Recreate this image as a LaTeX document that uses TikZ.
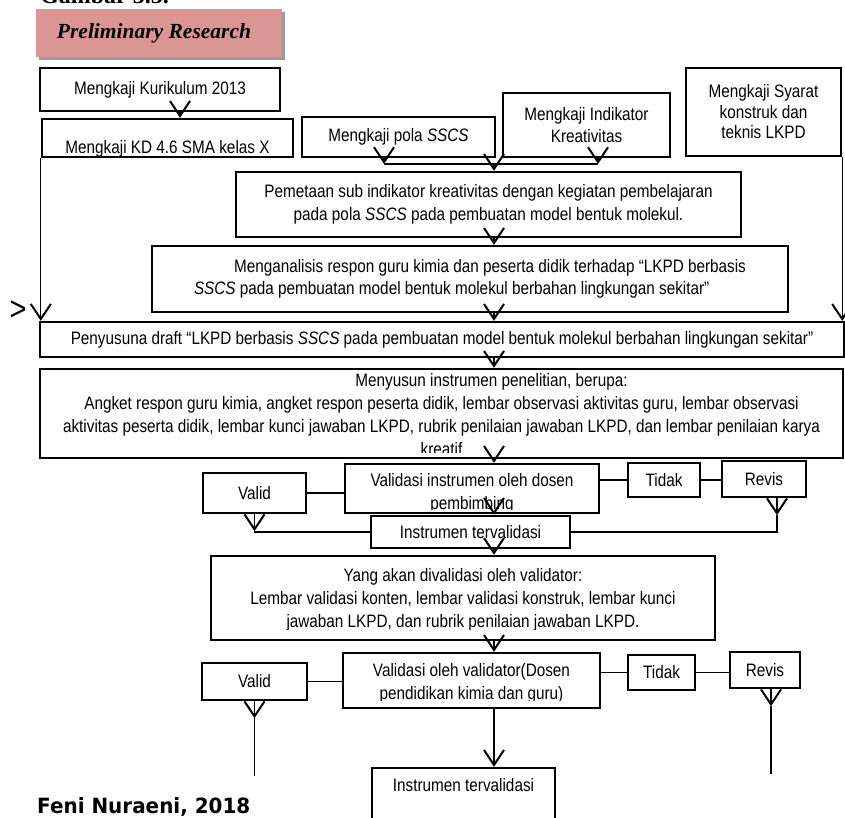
\documentclass[tikz,border=0pt]{standalone}
\usepackage{fontspec}
\setmainfont{Liberation Sans}[FakeStretch=0.85]
\newfontfamily\prelimfont{Liberation Serif}
\newfontfamily\fenifont{DejaVu Sans}[FakeStretch=0.95]
\usetikzlibrary{arrows.meta,calc,shadows}
\definecolor{prelimpink}{HTML}{D99694}
\definecolor{prelimshadow}{HTML}{9A9A9A}

\begin{document}
\begin{tikzpicture}[x=1pt, y=-1pt,
    box/.style={draw, line width=2.4pt, inner sep=2pt, align=center, font=\fontsize{18}{22.5}\selectfont},
    txt/.style={inner sep=0pt, align=center, font=\fontsize{18}{23}\selectfont},
    conn/.style={line width=1.2pt},
    vee/.style={line width=1.2pt, -{Straight Barb[length=15pt, width=20pt, line width=2pt]}}]
    \useasboundingbox (0,0) rectangle (845,817);

    % heading
    \node[anchor=base west, inner sep=0pt, font=\prelimfont\bfseries\fontsize{24}{28}\selectfont] (gambar) at (40,3.5) {Gambar 3.3.};
    \node[fill=prelimpink, minimum width=246pt, minimum height=48pt, drop shadow={shadow xshift=3pt, shadow yshift=-3pt, fill=prelimshadow, opacity=1}, font=\prelimfont\bfseries\itshape\fontsize{21.5}{25}\selectfont] (prelim) at (159,33) {\hspace*{-10pt}Preliminary Research};

    % kajian awal
    \node[box, minimum width=240pt, minimum height=43pt] (kurikulum) at (160,89.5) {Mengkaji Kurikulum 2013};
    \node[box, minimum width=251pt, minimum height=38pt, text height=30pt, text depth=0pt] (kd) at (167.5,138) {Mengkaji KD 4.6 SMA kelas X};
    \node[box, minimum width=193pt, minimum height=40pt] (pola) at (398.5,137) {Mengkaji pola \textit{SSCS}};
    \node[box, minimum width=167pt, minimum height=64pt] (indikator) at (586.5,125) {Mengkaji Indikator\\Kreativitas};
    \node[box, minimum width=155pt, minimum height=88pt, font=\fontsize{18}{20.5}\selectfont] (syarat) at (763.5,112) {Mengkaji Syarat\\konstruk dan\\teknis LKPD};

    \node[box, minimum width=505pt, minimum height=65pt] (pemetaan) at (488.5,204.5) {Pemetaan sub indikator kreativitas dengan kegiatan pembelajaran\\pada pola \textit{SSCS} pada pembuatan model bentuk molekul.};
    \node[box, minimum width=636pt, minimum height=66pt, align=left] (menganalisis) at (470,279) {\hspace*{40pt}Menganalisis respon guru kimia dan peserta didik terhadap “LKPD berbasis\\\textit{SSCS} pada pembuatan model bentuk molekul berbahan lingkungan sekitar”};
    \node[inner sep=0pt, font=\fontsize{34}{38}\selectfont] (stray) at (18,311) {>};
    \node[box, minimum width=804pt, minimum height=35pt] (penyusuna) at (442,339.5) {Penyusuna draft “LKPD berbasis \textit{SSCS} pada pembuatan model bentuk molekul berbahan lingkungan sekitar”};

    \begin{scope}
      \clip (40,369) rectangle (843,452);
      \node[txt] (menyusun-text) at (441.5,414.5) {\hspace*{100pt}Menyusun instrumen penelitian, berupa:\\Angket respon guru kimia, angket respon peserta didik, lembar observasi aktivitas guru, lembar observasi\\aktivitas peserta didik, lembar kunci jawaban LKPD, rubrik penilaian jawaban LKPD, dan lembar penilaian karya\\kreatif};
    \end{scope}
    \node[box, minimum width=803pt, minimum height=89pt] (menyusun) at (441.5,413.5) {};

    % validasi dosen pembimbing
    \begin{scope}
      \clip (345,464) rectangle (599,509);
      \node[txt] (validasi1-text) at (472,493) {Validasi instrumen oleh dosen\\pembimbing};
    \end{scope}
    \node[box, minimum width=254pt, minimum height=49pt] (validasi1) at (472,488.5) {};
    \node[box, minimum width=103pt, minimum height=40pt] (valid1) at (254.5,493) {Valid};
    \node[box, minimum width=72pt, minimum height=34pt] (tidak1) at (664,480) {Tidak};
    \node[box, minimum width=84pt, minimum height=36pt] (revis1) at (764,479) {Revis};
    \node[box, minimum width=199pt, minimum height=32pt] (instrumen1) at (470.5,532) {Instrumen tervalidasi};

    \begin{scope}
      \clip (211,556) rectangle (715,629);
      \node[txt] (yang-text) at (463,600) {Yang akan divalidasi oleh validator:\\Lembar validasi konten, lembar validasi konstruk, lembar kunci\\jawaban LKPD, dan rubrik penilaian jawaban LKPD.};
    \end{scope}
    \node[box, minimum width=504pt, minimum height=84pt] (yang) at (463,598) {};

    % validasi validator
    \begin{scope}
      \clip (343,653) rectangle (600,700);
      \node[txt] (validasi2-text) at (471.5,683) {Validasi oleh validator(Dosen\\pendidikan kimia dan guru)};
    \end{scope}
    \node[box, minimum width=257pt, minimum height=55pt] (validasi2) at (471.5,680.5) {};
    \node[box, minimum width=105pt, minimum height=37pt] (valid2) at (254.5,681.5) {Valid};
    \node[box, minimum width=67pt, minimum height=35pt] (tidak2) at (661.5,672.5) {Tidak};
    \node[box, minimum width=70pt, minimum height=36pt] (revis2) at (765,670) {Revis};
    \node[box, minimum width=183pt, minimum height=72pt, text height=0pt, text depth=26pt] (instrumen2) at (463.5,804) {Instrumen tervalidasi};

    \node[anchor=base west, inner sep=0pt, font=\fenifont\bfseries\fontsize{21}{25}\selectfont] (feni) at (37,813) {Feni Nuraeni, 2018};

    % panah
    \coordinate (jl) at (384,164);
    \coordinate (jr) at (598,164);
    \coordinate (jm) at (494,164);
    \draw[vee] ([xshift=20pt]kurikulum.south) -- ([xshift=12.5pt]kd.north);
    \draw[vee] (pola.south -| jl) -- (jl);
    \draw[vee] (indikator.south -| jr) -- (jr);
    \draw[conn] (jl) -- (jr);
    \draw[vee] (jm) -- (jm |- pemetaan.north);
    \draw[vee] (jm |- pemetaan.south) -- (jm |- menganalisis.north);
    \draw[vee] (jm |- menganalisis.south) -- (jm |- penyusuna.north);
    \draw[vee] (kd.south west) -- (kd.south west |- penyusuna.north);
    \draw[vee] (syarat.south east) -- (syarat.south east |- penyusuna.north);
    \draw[vee] (jm |- penyusuna.south) -- (jm |- menyusun.north);
    \draw[vee] (jm |- menyusun.south) -- (jm |- validasi1.north);

    \draw[conn] (valid1.east) -- (valid1.east -| validasi1.west);
    \draw[conn] (tidak1.west -| validasi1.east) -- (tidak1.west);
    \draw[conn] (tidak1.east) -- (tidak1.east -| revis1.west);
    \draw[vee] (jm |- validasi1.south) -- (jm |- instrumen1.north);
    \draw[vee] (valid1.south) -- ++(0,17) coordinate (v1tip);
    \draw[conn] (v1tip) |- (instrumen1.west);
    \draw[vee] ([xshift=13pt]revis1.south) -- ++(0,17) coordinate (r1tip);
    \draw[conn] (r1tip) |- (instrumen1.east);
    \draw[vee] (jm |- instrumen1.south) -- (jm |- yang.north);
    \draw[vee] (jm |- yang.south) -- (jm |- validasi2.north);

    \draw[conn] (valid2.east) -- (valid2.east -| validasi2.west);
    \draw[conn] (tidak2.west -| validasi2.east) -- (tidak2.west);
    \draw[conn] (tidak2.east) -- (tidak2.east -| revis2.west);
    \draw[vee] (jm |- validasi2.south) -- (jm |- instrumen2.north);
    \draw[vee] (valid2.south) -- ++(0,17) coordinate (v2tip);
    \draw[conn] (v2tip) -- ++(0,58);
    \draw[vee] ([xshift=6pt]revis2.south) -- ++(0,17) coordinate (r2tip);
    \draw[conn] (r2tip) -- ++(0,68);
\end{tikzpicture}
\end{document}
